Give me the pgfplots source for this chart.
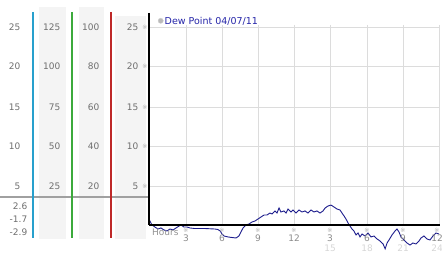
\documentclass[border=0pt]{standalone}
\usepackage{pgfplots}
\pgfplotsset{compat=1.18}
\usepackage{fontspec}
\setmainfont{DejaVu Sans}
\definecolor{lbl}{RGB}{110,110,110}
\definecolor{bandc}{RGB}{244,244,244}
\definecolor{gridc}{RGB}{220,220,220}
\definecolor{colTeal}{RGB}{40,160,205}
\definecolor{colGreen}{RGB}{60,170,60}
\definecolor{colRed}{RGB}{190,40,40}
\definecolor{sepg}{RGB}{160,160,160}
\definecolor{navy}{RGB}{28,28,140}
\definecolor{legtxt}{RGB}{36,36,168}
\definecolor{faint}{RGB}{214,214,214}
\definecolor{mk}{RGB}{176,176,176}
\pgfplotstableread{
h v
0 0.72
0.08 0.47
0.2 0.1
0.45 -0.16
0.7 -0.41
0.95 -0.28
1.2 -0.53
1.45 -0.66
1.7 -0.41
1.95 -0.53
2.2 -0.28
2.45 -0.03
2.6 0.1
2.85 -0.16
3.1 -0.16
3.35 -0.28
3.75 -0.35
4.2 -0.35
4.6 -0.35
5.0 -0.38
5.4 -0.41
5.65 -0.47
5.85 -0.66
6.0 -1.04
6.17 -1.29
6.5 -1.41
6.83 -1.48
7.16 -1.54
7.4 -1.29
7.57 -0.79
7.74 -0.28
7.99 0.1
8.23 0.22
8.48 0.47
8.73 0.6
8.98 0.85
9.23 1.1
9.48 1.35
9.72 1.35
9.97 1.6
10.14 1.48
10.39 1.86
10.55 1.6
10.72 2.23
10.88 1.73
11.13 1.86
11.3 1.6
11.46 2.1
11.71 1.73
11.88 1.98
12.12 1.6
12.37 1.98
12.62 1.73
12.87 1.86
13.12 1.6
13.37 1.98
13.61 1.73
13.86 1.86
14.11 1.6
14.36 1.86
14.53 2.23
14.77 2.48
15.02 2.6
15.27 2.36
15.52 2.1
15.77 1.98
15.93 1.6
16.1 1.23
16.26 0.85
16.43 0.35
16.59 -0.03
16.76 -0.41
16.92 -0.66
17.09 -1.16
17.26 -0.91
17.42 -1.41
17.59 -1.04
17.84 -1.29
18.08 -0.91
18.33 -1.41
18.58 -1.29
18.83 -1.66
19.08 -1.92
19.33 -2.29
19.5 -2.9
19.66 -2.17
19.82 -1.79
20.07 -1.16
20.32 -0.66
20.48 -0.41
20.65 -0.79
20.81 -1.41
21.06 -1.79
21.31 -2.17
21.56 -2.42
21.8 -2.17
22.05 -2.29
22.3 -1.92
22.47 -1.54
22.71 -1.29
22.96 -1.66
23.21 -1.79
23.46 -1.29
23.71 -0.91
23.96 -1.04
}\dewtable
\begin{document}
\begin{tikzpicture}
\begin{scope}[x=1pt,y=-1pt,shift={(0pt,253pt)},font=\fontsize{9}{10}\selectfont]
% bands
\fill[bandc] (39,7) rectangle (66,239);
\fill[bandc] (79,7) rectangle (104,239);
\fill[bandc] (115,16) rectangle (146,239);
% separator
\draw[sepg,line width=2pt] (0,197) -- (149,197);
% colored lines
\draw[draw=colTeal,line width=1.2pt] (33,12) -- (33,238);
\draw[draw=colGreen,line width=1.2pt] (72,12) -- (72,238);
\draw[draw=colRed,line width=1.2pt] (111,12) -- (111,238);
% left labels
\foreach \yy/\a/\b/\c/\d in {27/25/125/100/25, 66/20/100/80/20, 107/15/75/60/15, 146/10/50/40/10, 186/5/25/20/5}{
  \node[lbl,anchor=east,inner sep=0] at (20.5,\yy) {\a};
  \node[lbl,anchor=east,inner sep=0] at (60.5,\yy) {\b};
  \node[lbl,anchor=east,inner sep=0] at (99.5,\yy) {\c};
  \node[lbl,anchor=east,inner sep=0] at (138.5,\yy) {\d};
  \node[mk,inner sep=0,font=\fontsize{6}{6}\selectfont] at (145,\yy) {※};
  \draw[gridc,line width=0.8pt] (149,\yy) -- (440,\yy);
}
\node[lbl,anchor=east,inner sep=0] at (27.5,206) {2.6};
\node[lbl,anchor=east,inner sep=0] at (27.5,219) {-1.7};
\node[lbl,anchor=east,inner sep=0] at (27.5,232) {-2.9};
% vertical grid
\foreach \xx in {186,222,258,294,330,367,403,439}{
  \draw[gridc,line width=0.8pt] (\xx,25) -- (\xx,225);
}
\end{scope}
\begin{axis}[at={(149.5pt,0pt)},anchor=south west,scale only axis,
  width=290pt,height=253pt,xmin=0,xmax=24,ymin=-3.428,ymax=28.4,
  hide axis,clip=false]
\addplot[navy,line width=0.9pt,mark=none] table[x=h,y=v] {\dewtable};
\end{axis}
\begin{scope}[x=1pt,y=-1pt,shift={(0pt,253pt)},font=\fontsize{9}{10}\selectfont]
\draw[black,line width=1.2pt] (149,225) -- (440,225);
\draw[black,line width=1.6pt] (149,13) -- (149,225);
\foreach \xx/\t in {186/3,222/6,258/9,294/12,330/3,367/6,403/9,437/12}{
  \node[mk,inner sep=0,font=\fontsize{6}{6}\selectfont] at (\xx,230) {※};
  \node[lbl!80,inner sep=0] at (\xx,238.5) {\t};
}
\foreach \xx/\t in {330/15,367/18,403/21,437/24}{
  \node[faint,inner sep=0] at (\xx,248) {\t};
}
\node[lbl!75,anchor=west,inner sep=0] at (152,232.5) {Hours};
\fill[mk!80!black!60] (160.7,20.8) circle (2.6);
\draw[mk!60] (160.7,20.8) circle (2.6);
\node[legtxt,anchor=west,inner sep=0,font=\fontsize{9.5}{10}\selectfont] at (164.5,21) {Dew Point 04/07/11};
\end{scope}
\pgfresetboundingbox
\path (0,0) rectangle (442pt,253pt);
\end{tikzpicture}
\end{document}
